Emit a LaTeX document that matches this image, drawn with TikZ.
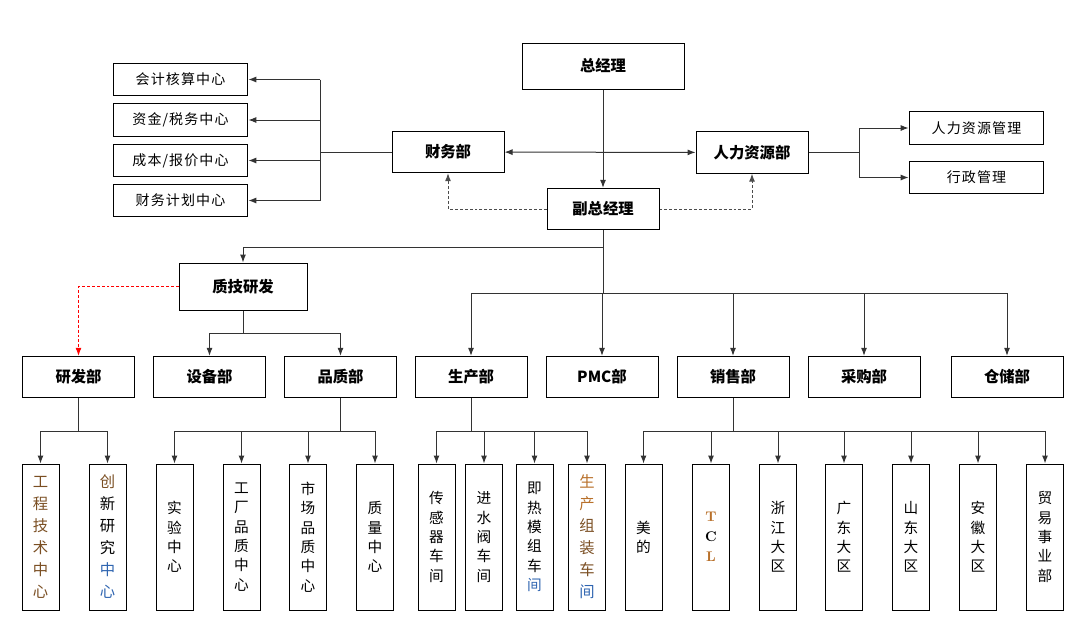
\documentclass[tikz,border=0pt]{standalone}
\usepackage{fontspec}
\newfontfamily\cjk{Noto Sans CJK SC}
\newfontfamily\cjkwide[LetterSpace=8]{Noto Sans CJK SC}
\usepackage{tikz}
\usetikzlibrary{arrows.meta}
\definecolor{techbrown}{HTML}{7A4E22}
\definecolor{techblue}{HTML}{2E64B0}
\definecolor{techorange}{HTML}{B8702A}

\begin{document}
\begin{tikzpicture}[x=0.75pt,y=-0.75pt,
  box/.style={draw,line width=0.75pt,inner sep=0pt,align=center},
  headbox/.style={box,font=\cjk\bfseries\fontsize{11.5}{13}\selectfont,minimum width=84pt,minimum height=31pt},
  sidebox/.style={box,font=\cjkwide\fontsize{10.5}{12}\selectfont,minimum width=101pt,minimum height=24.5pt},
  tallbox/.style={box,font=\cjk\fontsize{11}{14.5}\selectfont,minimum width=27.75pt,minimum height=109.5pt},
  widetall/.style={tallbox,font=\cjk\fontsize{11.5}{16.5}\selectfont},
  arr/.style={-{Latex[length=6pt,width=4.5pt]}},
  link/.style={line width=0.75pt,black!80},
  dashline/.style={dash pattern=on 2.2pt off 1.5pt,black!70},
  reddash/.style={dash pattern=on 2.2pt off 1.5pt,red}]
 \useasboundingbox (0,0) rectangle (1080,640);

 \node[headbox,minimum width=121.5pt,minimum height=34.5pt] (zjl) at (603,66) {总经理};
 \node[headbox] (fzjl) at (603,209) {副总经理};
 \node[headbox] (cwb) at (448,152) {财务部};
 \node[headbox] (rlzy) at (752,152.5) {人力资源部};
  \node[sidebox] (kj) at (180.5,79.5) {会计核算中心};
  \node[sidebox] (zj) at (180.5,120) {资金/税务中心};
  \node[sidebox] (cb) at (180.5,160.5) {成本/报价中心};
  \node[sidebox] (jh) at (180.5,200.5) {财务计划中心};
  \node[sidebox] (rlgl) at (976.5,128) {人力资源管理};
  \node[sidebox] (xzgl) at (976.5,177.5) {行政管理};
 \node[headbox,minimum width=96pt,minimum height=35.25pt] (zjyf) at (243,286.5) {质技研发};

 \node[headbox] (yfb) at (78.5,377) {研发部};
 \node[headbox] (sbb) at (209.5,377) {设备部};
 \node[headbox] (pzb) at (340.5,377) {品质部};
 \node[headbox] (scb) at (471,377) {生产部};
 \node[headbox] (pmc) at (602,377) {PMC部};
 \node[headbox] (xsb) at (733,377) {销售部};
 \node[headbox] (cgb) at (864,377) {采购部};
 \node[headbox] (ccb) at (1007,377) {仓储部};

  \node[widetall,text=techbrown] (gcjs) at (40.5,537) {工\\程\\技\\术\\中\\心};
  \node[widetall] (cxyj) at (107.5,537) {\textcolor{techbrown}{创}\\新\\研\\究\\\textcolor{techblue}{中}\\\textcolor{techblue}{心}};
  \node[tallbox] (syzx) at (174.5,537) {实\\验\\中\\心};
  \node[tallbox] (gcpz) at (241.5,537) {工\\厂\\品\\质\\中\\心};
  \node[tallbox] (scpz) at (308,537) {市\\场\\品\\质\\中\\心};
  \node[tallbox] (zlzx) at (375,537) {质\\量\\中\\心};
  \node[tallbox] (cgq) at (436.5,537) {传\\感\\器\\车\\间};
  \node[tallbox] (jsf) at (484,537) {进\\水\\阀\\车\\间};
  \node[tallbox] (jrmz) at (534.5,537) {即\\热\\模\\组\\车\\\textcolor{techblue}{间}};
  \node[widetall,text=techbrown] (sczz) at (587,537) {\textcolor{techorange}{生}\\\textcolor{techorange}{产}\\组\\装\\车\\\textcolor{techblue}{间}};
  \node[tallbox] (md) at (643.5,537) {美\\的};
  \node[tallbox,font=\rmfamily\bfseries\fontsize{10.5}{15}\selectfont] (tcl) at (711,537) {\textcolor{techorange}{T}\\C\\\textcolor{techorange}{L}};
  \node[tallbox] (zjdq) at (778,537) {浙\\江\\大\\区};
  \node[tallbox] (gddq) at (844,537) {广\\东\\大\\区};
  \node[tallbox] (sddq) at (911,537) {山\\东\\大\\区};
  \node[tallbox] (ahdq) at (978,537) {安\\徽\\大\\区};
  \node[tallbox] (mysy) at (1045,537) {贸\\易\\事\\业\\部};

 \coordinate (cwbus) at (320,152);
 \coordinate (rlbus) at (859,152.5);
 \coordinate (zjbus) at (603,247);
 \coordinate (mbus) at (603,293);
 \coordinate (zjyfbus) at (243,333);
 \coordinate (lowbus) at (0,431);

 \draw[link,arr] (zjl) -- (fzjl);
 \draw[link,{Latex[length=6pt,width=4.5pt]}-{Latex[length=6pt,width=4.5pt]}] (cwb) -- (rlzy);
 \draw[link] (cwb) -- (cwbus);
 \draw[link] (cwbus |- kj.east) -- (cwbus |- jh.east);
 \foreach \n in {kj,zj,cb,jh} \draw[link,arr] (cwbus |- \n.east) -- (\n.east);
 \draw[link] (rlzy) -- (rlbus);
 \draw[link] (rlbus |- rlgl.west) -- (rlbus |- xzgl.west);
 \foreach \n in {rlgl,xzgl} \draw[link,arr] (rlbus |- \n.west) -- (\n.west);
 \draw[link,dashline,arr] (fzjl.west) -| (cwb.south);
 \draw[link,dashline,arr] (fzjl.east) -| (rlzy.south);

 \draw[link] (fzjl) -- (mbus);
 \draw[link,arr] (zjbus) -| (zjyf.north);
 \draw[link] (mbus -| scb) -- (mbus -| ccb);
 \foreach \n in {scb,pmc,xsb,cgb,ccb} \draw[link,arr] (mbus -| \n) -- (\n.north);

 \draw[link,reddash,arr] (zjyf.west) -| (yfb.north);
 \draw[link] (zjyf) -- (zjyfbus);
 \draw[link] (zjyfbus -| sbb) -- (zjyfbus -| pzb);
 \foreach \n in {sbb,pzb} \draw[link,arr] (zjyfbus -| \n) -- (\n.north);

 \foreach \p/\a/\b in {yfb/gcjs/cxyj,pzb/syzx/zlzx,scb/cgq/sczz,xsb/md/mysy}{
   \draw[link] (\p) -- (\p |- lowbus);
   \draw[link] (\a |- lowbus) -- (\b |- lowbus);
 }
 \foreach \n in {gcjs,cxyj,syzx,gcpz,scpz,zlzx,cgq,jsf,jrmz,sczz,md,tcl,zjdq,gddq,sddq,ahdq,mysy}
   \draw[link,arr] (\n |- lowbus) -- (\n.north);
\end{tikzpicture}
\end{document}
